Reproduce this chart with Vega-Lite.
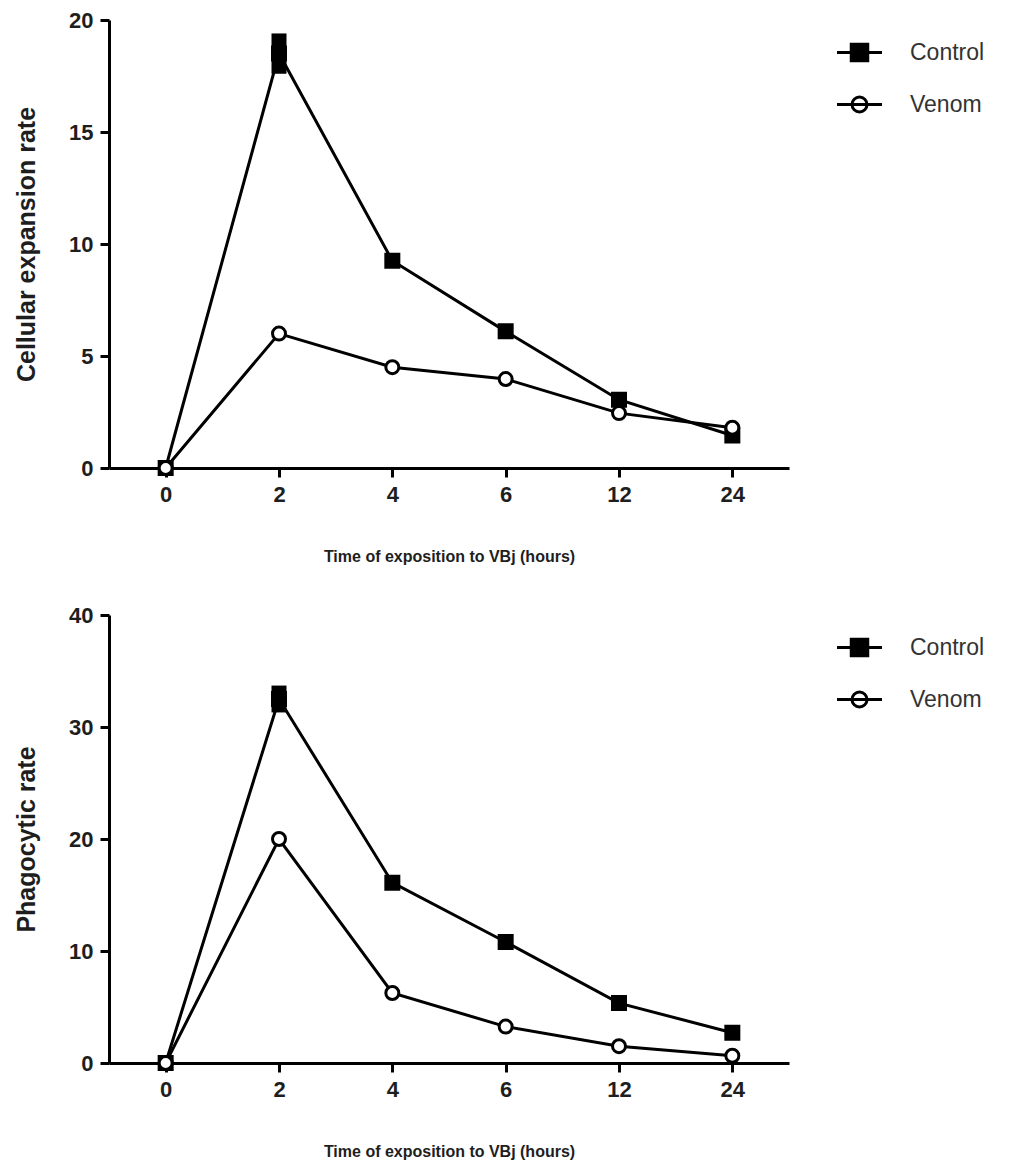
{
  "$schema": "https://vega.github.io/schema/vega-lite/v6.json",
  "background": "white",
  "padding": {"top": 9, "left": 14, "right": 5, "bottom": 5},
  "spacing": 40,
  "config": {
    "view": {"stroke": null},
    "axis": {
      "grid": false,
      "domainColor": "black",
      "domainWidth": 3,
      "tickColor": "black",
      "tickWidth": 3,
      "tickSize": 9,
      "labelFont": "Liberation Sans",
      "labelFontWeight": "bold",
      "labelFontSize": 22,
      "labelColor": "#1e1e1e",
      "titleFont": "Liberation Sans",
      "titleFontWeight": "bold",
      "titleColor": "#1e1e1e"
    },
    "legend": {
      "labelFont": "Liberation Sans",
      "labelFontSize": 23,
      "labelColor": "#333333",
      "symbolStrokeColor": "black",
      "symbolStrokeWidth": 3,
      "symbolSize": 900,
      "rowPadding": 21,
      "labelOffset": 34,
      "offset": 38,
      "padding": 16
    }
  },
  "datasets": {
    "cell": [
      {"time": "0", "group": "Control", "value": 0, "lo": 0, "hi": 0},
      {"time": "2", "group": "Control", "value": 18.5, "lo": 17.6, "hi": 19.4},
      {"time": "4", "group": "Control", "value": 9.25, "lo": 9.25, "hi": 9.25},
      {"time": "6", "group": "Control", "value": 6.1, "lo": 6.1, "hi": 6.1},
      {"time": "12", "group": "Control", "value": 3.05, "lo": 3.05, "hi": 3.05},
      {"time": "24", "group": "Control", "value": 1.45, "lo": 1.45, "hi": 1.45},
      {"time": "0", "group": "Venom", "value": 0, "lo": 0, "hi": 0},
      {"time": "2", "group": "Venom", "value": 6.0, "lo": 6.0, "hi": 6.0},
      {"time": "4", "group": "Venom", "value": 4.5, "lo": 4.5, "hi": 4.5},
      {"time": "6", "group": "Venom", "value": 3.97, "lo": 3.97, "hi": 3.97},
      {"time": "12", "group": "Venom", "value": 2.45, "lo": 2.45, "hi": 2.45},
      {"time": "24", "group": "Venom", "value": 1.8, "lo": 1.8, "hi": 1.8}
    ],
    "phago": [
      {"time": "0", "group": "Control", "value": 0, "lo": 0, "hi": 0},
      {"time": "2", "group": "Control", "value": 32.5, "lo": 31.3, "hi": 33.7},
      {"time": "4", "group": "Control", "value": 16.1, "lo": 16.1, "hi": 16.1},
      {"time": "6", "group": "Control", "value": 10.8, "lo": 10.8, "hi": 10.8},
      {"time": "12", "group": "Control", "value": 5.35, "lo": 5.35, "hi": 5.35},
      {"time": "24", "group": "Control", "value": 2.7, "lo": 2.7, "hi": 2.7},
      {"time": "0", "group": "Venom", "value": 0, "lo": 0, "hi": 0},
      {"time": "2", "group": "Venom", "value": 20.0, "lo": 20.0, "hi": 20.0},
      {"time": "4", "group": "Venom", "value": 6.25, "lo": 6.25, "hi": 6.25},
      {"time": "6", "group": "Venom", "value": 3.25, "lo": 3.25, "hi": 3.25},
      {"time": "12", "group": "Venom", "value": 1.5, "lo": 1.5, "hi": 1.5},
      {"time": "24", "group": "Venom", "value": 0.65, "lo": 0.65, "hi": 0.65}
    ]
  },
  "resolve": {
    "scale": {"x": "independent", "y": "independent", "shape": "independent", "fill": "independent"},
    "legend": {"shape": "independent", "fill": "independent"}
  },
  "vconcat": [
    {
      "width": 680,
      "height": 448,
      "data": {"name": "cell"},
      "encoding": {
        "x": {
          "field": "time", "type": "ordinal",
          "sort": ["0", "2", "4", "6", "12", "24"],
          "scale": {"type": "point", "padding": 0.5},
          "axis": {"labelAngle": 0, "labelPadding": 7, "title": "Time of exposition to VBj (hours)", "titleFontSize": 16, "titlePadding": 43}
        },
        "y": {
          "field": "value", "type": "quantitative",
          "scale": {"domain": [0, 20], "nice": false},
          "axis": {"values": [0, 5, 10, 15, 20], "labelPadding": 7, "title": "Cellular expansion rate", "titleFontSize": 25, "titlePadding": 29}
        }
      },
      "resolve": {"scale": {"shape": "independent"}},
      "layer": [
        {
          "mark": {"type": "line", "stroke": "black", "strokeWidth": 3},
          "encoding": {"detail": {"field": "group"}}
        },
        {
          "transform": [{"filter": "datum.hi > datum.lo"}],
          "mark": {"type": "rule", "stroke": "black", "strokeWidth": 15, "strokeCap": "butt"},
          "encoding": {"y": {"field": "lo", "type": "quantitative"}, "y2": {"field": "hi"}}
        },
        {
          "mark": {"type": "point", "stroke": "black", "strokeWidth": 3, "opacity": 1, "size": 169},
          "encoding": {
            "shape": {"field": "group", "type": "nominal", "scale": {"domain": ["Control", "Venom"], "range": ["square", "circle"]}, "legend": null},
            "fill": {"field": "group", "type": "nominal", "scale": {"domain": ["Control", "Venom"], "range": ["black", "white"]}, "legend": null}
          }
        },
        {
          "transform": [{"filter": "false"}],
          "mark": {"type": "point", "stroke": "black", "strokeWidth": 3, "opacity": 1},
          "encoding": {
            "shape": {
              "field": "group", "type": "nominal",
              "scale": {"domain": ["Control", "Venom"], "range": ["M-1.5,0H1.5M-0.55,-0.55H0.55V0.55H-0.55ZM-0.55,-0.4H0.55M-0.55,-0.25H0.55M-0.55,-0.1H0.55M-0.55,0.1H0.55M-0.55,0.25H0.55M-0.55,0.4H0.55", "M-1.5,0H1.5M-0.5,0A0.5,0.5 0 1,1 0.5,0A0.5,0.5 0 1,1 -0.5,0Z"]},
              "legend": {
                "title": null,
                "encode": {"symbols": {
                  "stroke": {"value": "black"},
                  "strokeWidth": {"value": 3},
                  "opacity": {"value": 1},
                  "fill": {"value": "white"}
                }}
              }
            }
          }
        }
      ]
    },
    {
      "width": 680,
      "height": 448,
      "data": {"name": "phago"},
      "encoding": {
        "x": {
          "field": "time", "type": "ordinal",
          "sort": ["0", "2", "4", "6", "12", "24"],
          "scale": {"type": "point", "padding": 0.5},
          "axis": {"labelAngle": 0, "labelPadding": 7, "title": "Time of exposition to VBj (hours)", "titleFontSize": 16, "titlePadding": 43}
        },
        "y": {
          "field": "value", "type": "quantitative",
          "scale": {"domain": [0, 40], "nice": false},
          "axis": {"values": [0, 10, 20, 30, 40], "labelPadding": 7, "title": "Phagocytic rate", "titleFontSize": 25, "titlePadding": 29}
        }
      },
      "resolve": {"scale": {"shape": "independent"}},
      "layer": [
        {
          "mark": {"type": "line", "stroke": "black", "strokeWidth": 3},
          "encoding": {"detail": {"field": "group"}}
        },
        {
          "transform": [{"filter": "datum.hi > datum.lo"}],
          "mark": {"type": "rule", "stroke": "black", "strokeWidth": 15, "strokeCap": "butt"},
          "encoding": {"y": {"field": "lo", "type": "quantitative"}, "y2": {"field": "hi"}}
        },
        {
          "mark": {"type": "point", "stroke": "black", "strokeWidth": 3, "opacity": 1, "size": 169},
          "encoding": {
            "shape": {"field": "group", "type": "nominal", "scale": {"domain": ["Control", "Venom"], "range": ["square", "circle"]}, "legend": null},
            "fill": {"field": "group", "type": "nominal", "scale": {"domain": ["Control", "Venom"], "range": ["black", "white"]}, "legend": null}
          }
        },
        {
          "transform": [{"filter": "false"}],
          "mark": {"type": "point", "stroke": "black", "strokeWidth": 3, "opacity": 1},
          "encoding": {
            "shape": {
              "field": "group", "type": "nominal",
              "scale": {"domain": ["Control", "Venom"], "range": ["M-1.5,0H1.5M-0.55,-0.55H0.55V0.55H-0.55ZM-0.55,-0.4H0.55M-0.55,-0.25H0.55M-0.55,-0.1H0.55M-0.55,0.1H0.55M-0.55,0.25H0.55M-0.55,0.4H0.55", "M-1.5,0H1.5M-0.5,0A0.5,0.5 0 1,1 0.5,0A0.5,0.5 0 1,1 -0.5,0Z"]},
              "legend": {
                "title": null,
                "encode": {"symbols": {
                  "stroke": {"value": "black"},
                  "strokeWidth": {"value": 3},
                  "opacity": {"value": 1},
                  "fill": {"value": "white"}
                }}
              }
            }
          }
        }
      ]
    }
  ]
}
